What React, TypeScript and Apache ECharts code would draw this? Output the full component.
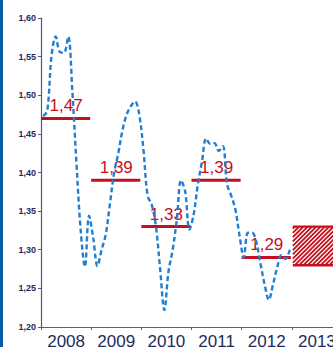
import React, { useEffect, useRef } from "react";
import * as echarts from "echarts";

const years = ["2008", "2009", "2010", "2011", "2012", "2013"];
const yearAverages = [1.47, 1.39, 1.33, 1.39, 1.29];
const forecastRange = [1.28, 1.33];
const monthlyRate = [
  1.473, 1.48, 1.55, 1.576, 1.556, 1.555, 1.576, 1.505, 1.41, 1.325, 1.278, 1.344,
  1.315, 1.279, 1.3, 1.32, 1.36, 1.4, 1.425, 1.455, 1.475, 1.486, 1.492, 1.475,
  1.43, 1.37, 1.358, 1.33, 1.275, 1.222, 1.272, 1.3, 1.34, 1.39, 1.375, 1.326,
  1.345, 1.384, 1.414, 1.444, 1.437, 1.438, 1.428, 1.434, 1.385, 1.37, 1.352, 1.318,
  1.29, 1.322, 1.322, 1.31, 1.282, 1.255, 1.235, 1.255, 1.277, 1.293, 1.288, 1.3,
];

const RED = "#c3101c";
const NAVY = "#1d2b5e";
const FONT = "'Liberation Sans', Arial, sans-serif";
const NARROW = "'Liberation Sans Narrow', 'Arial Narrow', 'Liberation Sans', sans-serif";

const fmt = (v: number) => v.toFixed(2).replace(".", ",");

export default function App() {
  const ref = useRef<HTMLDivElement>(null);
  useEffect(() => {
    if (!ref.current) return;
    const chart = echarts.init(ref.current, undefined, { renderer: "svg" });
    const lineData = monthlyRate.map((v, m) => [m + 0.5, v]);
    const avgData = yearAverages.map((v, i) => [i * 12, (i + 1) * 12, v]);
    const forecastData = [[60, 72, forecastRange[0], forecastRange[1]]];
    chart.setOption({
      animation: false,
      backgroundColor: "#ffffff",
      textStyle: { fontFamily: FONT },
      graphic: [
        { type: "rect", left: 0, top: 0, shape: { width: 3, height: 347 }, style: { fill: "#0b5aa8" } },
      ],
      grid: { left: 41, top: 18, bottom: 20, right: -9, outerBoundsMode: "none", containLabel: false },
      xAxis: [
        {
          type: "category",
          data: years,
          boundaryGap: true,
          axisLine: { lineStyle: { color: "#5656b0", width: 1.2 } },
          axisTick: { show: true, length: 3, interval: 0, lineStyle: { color: "#5656b0" } },
          axisLabel: { color: NAVY, fontSize: 17, margin: 6, fontFamily: NARROW, interval: 0 },
          splitLine: { show: false },
        },
        {
          type: "value",
          min: 0,
          max: 72,
          show: false,
        },
      ],
      yAxis: {
        type: "value",
        min: 1.2,
        max: 1.6,
        interval: 0.05,
        axisLine: { show: true, lineStyle: { color: "#4d5b8c", width: 1.2 } },
        axisTick: { show: true, length: 3, lineStyle: { color: "#4d5b8c" } },
        axisLabel: {
          color: NAVY,
          fontSize: 9,
          fontWeight: "bold",
          margin: 5,
          fontFamily: FONT,
          formatter: (v: number) => fmt(v),
        },
        splitLine: { show: false },
      },
      series: [
        {
          type: "custom",
          xAxisIndex: 1,
          z: 2,
          clip: false,
          data: forecastData,
          renderItem: (params: any, api: any) => {
            const tl = api.coord([api.value(0), api.value(3)]);
            const br = api.coord([api.value(1), api.value(2)]);
            const x0 = tl[0] + 1;
            const x1 = br[0];
            const y0 = tl[1];
            const y1 = br[1];
            const children: any[] = [
              { type: "rect", shape: { x: x0, y: y0, width: x1 - x0, height: y1 - y0 }, style: { fill: "#fff" } },
            ];
            const s = 4.3;
            for (let c = x0 + y0 + 2; c < x1 + y1; c += s) {
              const sx = Math.max(x0, c - y1);
              const ex = Math.min(x1, c - y0);
              if (ex <= sx) continue;
              children.push({
                type: "line",
                shape: { x1: sx, y1: c - sx, x2: ex, y2: c - ex },
                style: { stroke: RED, lineWidth: 1.8 },
              });
            }
            children.push({ type: "line", shape: { x1: x0, y1: y0, x2: x1, y2: y0 }, style: { stroke: RED, lineWidth: 2.4 } });
            children.push({ type: "line", shape: { x1: x0, y1: y1, x2: x1, y2: y1 }, style: { stroke: RED, lineWidth: 2.4 } });
            return { type: "group", children };
          },
        },
        {
          type: "custom",
          xAxisIndex: 1,
          z: 3,
          clip: false,
          data: avgData,
          renderItem: (params: any, api: any) => {
            const a = api.coord([api.value(0), api.value(2)]);
            const b = api.coord([api.value(1), api.value(2)]);
            return {
              type: "group",
              children: [
                {
                  type: "line",
                  shape: { x1: a[0], y1: a[1], x2: b[0] - 1, y2: b[1] },
                  style: { stroke: RED, lineWidth: 3 },
                },
                {
                  type: "text",
                  x: (a[0] + b[0]) / 2,
                  y: a[1] - 4,
                  style: {
                    text: fmt(api.value(2)),
                    fill: RED,
                    fontSize: 17,
                    fontFamily: NARROW,
                    textAlign: "center",
                    textVerticalAlign: "bottom",
                  },
                },
              ],
            };
          },
        },
        {
          type: "line",
          xAxisIndex: 1,
          z: 4,
          data: lineData,
          smooth: 0.35,
          showSymbol: false,
          symbol: "none",
          lineStyle: { color: "#1f7fd2", width: 2.4, type: [5, 3] },
        },
      ],
    });
    return () => chart.dispose();
  }, []);
  return (
    <div
      ref={ref}
      style={{ position: "fixed", left: 0, top: 0, width: 333, height: 347 }}
    />
  );
}
